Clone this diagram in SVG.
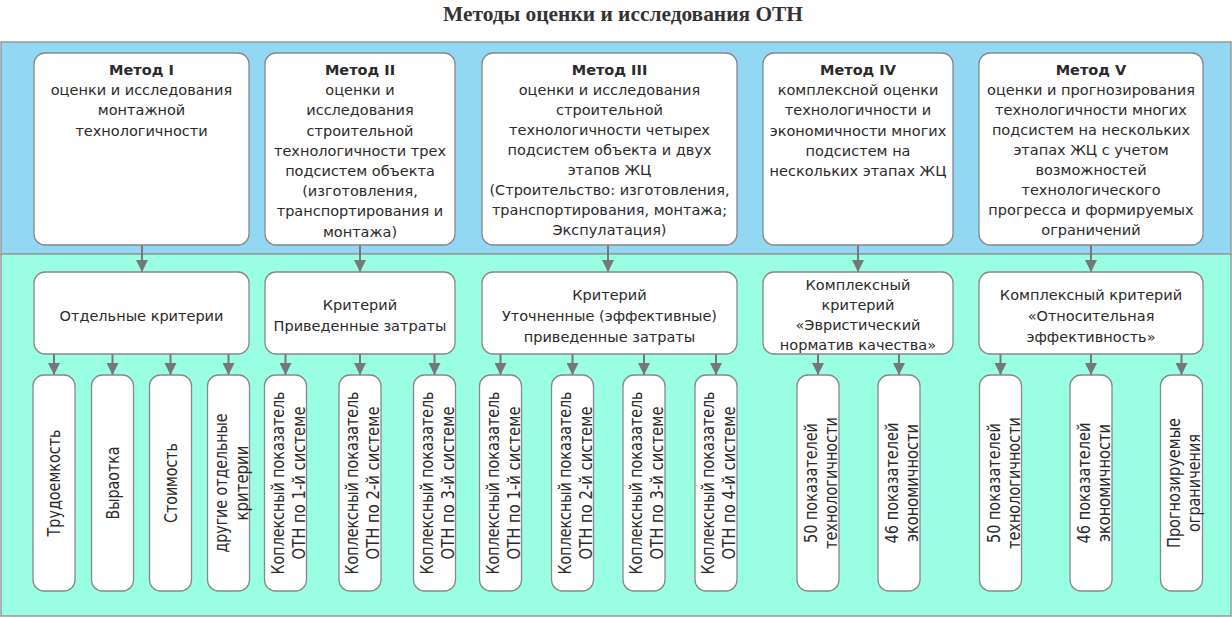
<svg xmlns="http://www.w3.org/2000/svg" width="1232" height="618" viewBox="0 0 1232 618">
<style>
.t{font-family:"DejaVu Sans","Noto Sans",sans-serif;font-size:14.5px;fill:#2a2a2a;text-anchor:middle}
.b{font-weight:bold}
.v{font-family:"DejaVu Sans","Noto Sans",sans-serif;font-size:17px;fill:#2a2a2a;text-anchor:middle}
.box{fill:#fff;stroke:#888;stroke-width:1.3}
.con{stroke:#777;stroke-width:2;fill:none;marker-end:url(#ah)}
.title{font-family:"Liberation Serif","Times New Roman",serif;font-weight:bold;font-size:20.5px;fill:#333;text-anchor:middle}
</style>
<defs>
<marker id="ah" markerUnits="userSpaceOnUse" markerWidth="12" markerHeight="12" refX="12" refY="6" orient="auto">
<path d="M0,0 L12,6 L0,12 z" fill="#777"/>
</marker>
</defs>
<rect width="1232" height="618" fill="#fff"/>
<text class="title" x="623" y="21" textLength="360" lengthAdjust="spacingAndGlyphs">Методы оценки и исследования ОТН</text>
<g id="bands">
<rect x="1" y="42" width="1230" height="212" fill="#93D8F3" stroke="#999" stroke-width="1.5"/>
<rect x="1" y="254" width="1230" height="362" fill="#9AFFE2" stroke="#999" stroke-width="1.5"/>
</g>
<g id="connectors">
<line class="con" x1="142" y1="245" x2="142" y2="272"/>
<line class="con" x1="360" y1="245" x2="360" y2="272"/>
<line class="con" x1="608" y1="245" x2="608" y2="272"/>
<line class="con" x1="858" y1="245" x2="858" y2="272"/>
<line class="con" x1="1091" y1="245" x2="1091" y2="272"/>
<line class="con" x1="54" y1="354" x2="54" y2="375"/>
<line class="con" x1="112.5" y1="354" x2="112.5" y2="375"/>
<line class="con" x1="170.5" y1="354" x2="170.5" y2="375"/>
<line class="con" x1="228.5" y1="354" x2="228.5" y2="375"/>
<line class="con" x1="285.5" y1="354" x2="285.5" y2="375"/>
<line class="con" x1="360" y1="354" x2="360" y2="375"/>
<line class="con" x1="434.5" y1="354" x2="434.5" y2="375"/>
<line class="con" x1="500.5" y1="354" x2="500.5" y2="375"/>
<line class="con" x1="572.5" y1="354" x2="572.5" y2="375"/>
<line class="con" x1="644" y1="354" x2="644" y2="375"/>
<line class="con" x1="716" y1="354" x2="716" y2="375"/>
<line class="con" x1="818" y1="354" x2="818" y2="375"/>
<line class="con" x1="899" y1="354" x2="899" y2="375"/>
<line class="con" x1="1000.5" y1="354" x2="1000.5" y2="375"/>
<line class="con" x1="1091" y1="354" x2="1091" y2="375"/>
<line class="con" x1="1181.5" y1="354" x2="1181.5" y2="375"/>
</g>
<g id="m1">
<rect class="box" x="34" y="53" width="215" height="192" rx="11"/>
<text class="t" x="141.5" y="75"><tspan class="b">Метод I</tspan><tspan x="141.5" dy="20.2">оценки и исследования</tspan><tspan x="141.5" dy="20.2">монтажной</tspan><tspan x="141.5" dy="20.2">технологичности</tspan></text>
</g>
<g id="m2">
<rect class="box" x="265" y="53" width="190" height="192" rx="11"/>
<text class="t" x="360" y="75"><tspan class="b">Метод II</tspan><tspan x="360" dy="20.2">оценки и</tspan><tspan x="360" dy="20.2">исследования</tspan><tspan x="360" dy="20.2">строительной</tspan><tspan x="360" dy="20.2">технологичности трех</tspan><tspan x="360" dy="20.2">подсистем объекта</tspan><tspan x="360" dy="20.2">(изготовления,</tspan><tspan x="360" dy="20.2">транспортирования и</tspan><tspan x="360" dy="20.2">монтажа)</tspan></text>
</g>
<g id="m3">
<rect class="box" x="482" y="53" width="255" height="192" rx="11"/>
<text class="t" x="609.5" y="75"><tspan class="b">Метод III</tspan><tspan x="609.5" dy="20">оценки и исследования</tspan><tspan x="609.5" dy="20">строительной</tspan><tspan x="609.5" dy="20">технологичности четырех</tspan><tspan x="609.5" dy="20">подсистем объекта и двух</tspan><tspan x="609.5" dy="20">этапов ЖЦ</tspan><tspan x="609.5" dy="20">(Строительство: изготовления,</tspan><tspan x="609.5" dy="20">транспортирования, монтажа;</tspan><tspan x="609.5" dy="20">Экспулатация)</tspan></text>
</g>
<g id="m4">
<rect class="box" x="763" y="53" width="190" height="192" rx="11"/>
<text class="t" x="858" y="75"><tspan class="b">Метод IV</tspan><tspan x="858" dy="20.2">комплексной оценки</tspan><tspan x="858" dy="20.2">технологичности и</tspan><tspan x="858" dy="20.2">экономичности многих</tspan><tspan x="858" dy="20.2">подсистем на</tspan><tspan x="858" dy="20.2">нескольких этапах ЖЦ</tspan></text>
</g>
<g id="m5">
<rect class="box" x="979" y="53" width="224" height="192" rx="11"/>
<text class="t" x="1091" y="75"><tspan class="b">Метод V</tspan><tspan x="1091" dy="20">оценки и прогнозирования</tspan><tspan x="1091" dy="20">технологичности многих</tspan><tspan x="1091" dy="20">подсистем на нескольких</tspan><tspan x="1091" dy="20">этапах ЖЦ с учетом</tspan><tspan x="1091" dy="20">возможностей</tspan><tspan x="1091" dy="20">технологического</tspan><tspan x="1091" dy="20">прогресса и формируемых</tspan><tspan x="1091" dy="20">ограничений</tspan></text>
</g>
<g id="c1">
<rect class="box" x="34" y="272" width="215" height="82" rx="11"/>
<text class="t" x="141.5" y="321">Отдельные критерии</text>
</g>
<g id="c2">
<rect class="box" x="265" y="272" width="190" height="82" rx="11"/>
<text class="t" x="360" y="310">Критерий<tspan x="360" dy="21">Приведенные затраты</tspan></text>
</g>
<g id="c3">
<rect class="box" x="482" y="272" width="255" height="82" rx="11"/>
<text class="t" x="609.5" y="300">Критерий<tspan x="609.5" dy="21">Уточненные (эффективные)</tspan><tspan x="609.5" dy="21">приведенные затраты</tspan></text>
</g>
<g id="c4">
<rect class="box" x="763" y="272" width="190" height="82" rx="11"/>
<text class="t" x="858" y="290">Комплексный<tspan x="858" dy="20">критерий</tspan><tspan x="858" dy="20">«Эвристический</tspan><tspan x="858" dy="20">норматив качества»</tspan></text>
</g>
<g id="c5">
<rect class="box" x="979" y="272" width="224" height="82" rx="11"/>
<text class="t" x="1091" y="300">Комплексный критерий<tspan x="1091" dy="21">«Относительная</tspan><tspan x="1091" dy="21">эффективность»</tspan></text>
</g>
<g id="b1">
<rect class="box" x="33" y="375" width="42" height="216" rx="11"/>
<text class="v" transform="translate(54 483) rotate(-90)" y="6" textLength="107" lengthAdjust="spacingAndGlyphs">Трудоемкость</text>
</g>
<g id="b2">
<rect class="box" x="91.5" y="375" width="42" height="216" rx="11"/>
<text class="v" transform="translate(112.5 483) rotate(-90)" y="6" textLength="73" lengthAdjust="spacingAndGlyphs">Выраотка</text>
</g>
<g id="b3">
<rect class="box" x="149.5" y="375" width="42" height="216" rx="11"/>
<text class="v" transform="translate(170.5 483) rotate(-90)" y="6" textLength="80" lengthAdjust="spacingAndGlyphs">Стоимость</text>
</g>
<g id="b4">
<rect class="box" x="207.5" y="375" width="42" height="216" rx="11"/>
<text class="v" transform="translate(228.5 483) rotate(-90)"><tspan x="0" y="-2" textLength="139" lengthAdjust="spacingAndGlyphs">другие отдельные</tspan><tspan x="0" y="19" textLength="75" lengthAdjust="spacingAndGlyphs">критерии</tspan></text>
</g>
<g id="b5">
<rect class="box" x="264.5" y="375" width="42" height="216" rx="11"/>
<text class="v" transform="translate(285.5 483) rotate(-90)"><tspan x="0" y="-2" textLength="183" lengthAdjust="spacingAndGlyphs">Коплексный показатель</tspan><tspan x="0" y="19" textLength="153" lengthAdjust="spacingAndGlyphs">ОТН по 1-й системе</tspan></text>
</g>
<g id="b6">
<rect class="box" x="339" y="375" width="42" height="216" rx="11"/>
<text class="v" transform="translate(360 483) rotate(-90)"><tspan x="0" y="-2" textLength="183" lengthAdjust="spacingAndGlyphs">Коплексный показатель</tspan><tspan x="0" y="19" textLength="153" lengthAdjust="spacingAndGlyphs">ОТН по 2-й системе</tspan></text>
</g>
<g id="b7">
<rect class="box" x="413.5" y="375" width="42" height="216" rx="11"/>
<text class="v" transform="translate(434.5 483) rotate(-90)"><tspan x="0" y="-2" textLength="183" lengthAdjust="spacingAndGlyphs">Коплексный показатель</tspan><tspan x="0" y="19" textLength="153" lengthAdjust="spacingAndGlyphs">ОТН по 3-й системе</tspan></text>
</g>
<g id="b8">
<rect class="box" x="479.5" y="375" width="42" height="216" rx="11"/>
<text class="v" transform="translate(500.5 483) rotate(-90)"><tspan x="0" y="-2" textLength="183" lengthAdjust="spacingAndGlyphs">Коплексный показатель</tspan><tspan x="0" y="19" textLength="153" lengthAdjust="spacingAndGlyphs">ОТН по 1-й системе</tspan></text>
</g>
<g id="b9">
<rect class="box" x="551.5" y="375" width="42" height="216" rx="11"/>
<text class="v" transform="translate(572.5 483) rotate(-90)"><tspan x="0" y="-2" textLength="183" lengthAdjust="spacingAndGlyphs">Коплексный показатель</tspan><tspan x="0" y="19" textLength="153" lengthAdjust="spacingAndGlyphs">ОТН по 2-й системе</tspan></text>
</g>
<g id="b10">
<rect class="box" x="623" y="375" width="42" height="216" rx="11"/>
<text class="v" transform="translate(644 483) rotate(-90)"><tspan x="0" y="-2" textLength="183" lengthAdjust="spacingAndGlyphs">Коплексный показатель</tspan><tspan x="0" y="19" textLength="153" lengthAdjust="spacingAndGlyphs">ОТН по 3-й системе</tspan></text>
</g>
<g id="b11">
<rect class="box" x="695" y="375" width="42" height="216" rx="11"/>
<text class="v" transform="translate(716 483) rotate(-90)"><tspan x="0" y="-2" textLength="183" lengthAdjust="spacingAndGlyphs">Коплексный показатель</tspan><tspan x="0" y="19" textLength="153" lengthAdjust="spacingAndGlyphs">ОТН по 4-й системе</tspan></text>
</g>
<g id="b12">
<rect class="box" x="797" y="375" width="42" height="216" rx="11"/>
<text class="v" transform="translate(818 483) rotate(-90)"><tspan x="0" y="-1" textLength="120" lengthAdjust="spacingAndGlyphs">50 показателей</tspan><tspan x="0" y="19" textLength="132" lengthAdjust="spacingAndGlyphs">технологичности</tspan></text>
</g>
<g id="b13">
<rect class="box" x="878" y="375" width="42" height="216" rx="11"/>
<text class="v" transform="translate(899 483) rotate(-90)"><tspan x="0" y="-1" textLength="121" lengthAdjust="spacingAndGlyphs">46 показателей</tspan><tspan x="0" y="19" textLength="118" lengthAdjust="spacingAndGlyphs">экономичности</tspan></text>
</g>
<g id="b14">
<rect class="box" x="979.5" y="375" width="42" height="216" rx="11"/>
<text class="v" transform="translate(1000.5 483) rotate(-90)"><tspan x="0" y="-1" textLength="120" lengthAdjust="spacingAndGlyphs">50 показателей</tspan><tspan x="0" y="19" textLength="132" lengthAdjust="spacingAndGlyphs">технологичности</tspan></text>
</g>
<g id="b15">
<rect class="box" x="1070" y="375" width="42" height="216" rx="11"/>
<text class="v" transform="translate(1091 483) rotate(-90)"><tspan x="0" y="-1" textLength="121" lengthAdjust="spacingAndGlyphs">46 показателей</tspan><tspan x="0" y="19" textLength="118" lengthAdjust="spacingAndGlyphs">экономичности</tspan></text>
</g>
<g id="b16">
<rect class="box" x="1160.5" y="375" width="42" height="216" rx="11"/>
<text class="v" transform="translate(1181.5 483) rotate(-90)"><tspan x="0" y="-2" textLength="130" lengthAdjust="spacingAndGlyphs">Прогнозируемые</tspan><tspan x="0" y="18" textLength="98" lengthAdjust="spacingAndGlyphs">ограничения</tspan></text>
</g>
</svg>
